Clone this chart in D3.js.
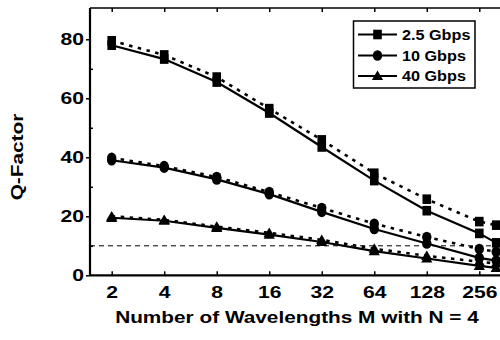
<!DOCTYPE html>
<html>
<head>
<meta charset="utf-8">
<script src="https://cdn.jsdelivr.net/npm/d3@7/dist/d3.min.js"></script>
<style>
  html, body { margin: 0; padding: 0; background: #fff; }
  svg { display: block; }
  text { font-family: "Liberation Sans", Arial, sans-serif; font-weight: bold; fill: #000; }
</style>
</head>
<body>
<svg id="chart" width="500" height="340"></svg>
<script>
// ---- data ----
const wavelengths = [2, 4, 8, 16, 32, 64, 128, 256, 320];
const xTickValues = [2, 4, 8, 16, 32, 64, 128, 256];
const yTickValues = [0, 20, 40, 60, 80];
const yMinorTicks = [10, 30, 50, 70];
const seriesNames = ["2.5 Gbps", "10 Gbps", "40 Gbps"];
const markerShapes = ["square", "circle", "triangle"];
const q25Solid  = [78.0, 73.3, 65.5, 55.0, 43.5, 32.1, 21.9, 14.2, 11.0];
const q25Dotted = [79.5, 74.7, 67.2, 56.5, 45.9, 34.6, 25.8, 18.2, 17.0];
const q10Solid  = [39.0, 36.5, 32.5, 27.5, 21.5, 15.7, 10.8, 5.9, 5.0];
const q10Dotted = [39.8, 37.0, 33.3, 28.2, 22.8, 17.5, 13.0, 8.9, 8.0];
const q40Solid  = [19.5, 18.5, 16.1, 13.8, 11.3, 8.2, 5.7, 3.2, 2.5];
const q40Dotted = [20.0, 18.8, 16.5, 14.4, 12.0, 9.0, 6.6, 4.6, 4.0];
const thresholdQ = 10;
const xTitle = "Number of Wavelengths M with N = 4";
const yTitle = "Q-Factor";

// ---- layout ----
const svg = d3.select("#chart");
const plotL = 90, plotT = 8, plotB = 275.3, plotR = 500;
const x = d3.scaleLog().base(2).domain([2, 256]).range([111.7, 479.3]);
const y = d3.scaleLinear().domain([0, 80]).range([275.3, 39.3]);
const SX = 1.32; // horizontal stretch of the reference's lettering

function stretch(sel, sx) {
  sel.each(function () {
    const t = d3.select(this);
    const ax = +(t.attr("x") || 0);
    t.attr("transform", `translate(${ax},0) scale(${sx},1) translate(${-ax},0)`);
  });
}

// frame line (top)
svg.append("line").attr("x1", plotL).attr("x2", plotR).attr("y1", plotT).attr("y2", plotT)
  .attr("stroke", "#000").attr("stroke-width", 1.5);

// threshold line
svg.append("line").attr("x1", plotL).attr("x2", plotR)
  .attr("y1", y(thresholdQ)).attr("y2", y(thresholdQ))
  .attr("stroke", "#000").attr("stroke-width", 1).attr("stroke-dasharray", "5,4");

// series
const series = [
  { vals: q25Dotted, dash: "3.5,5.5", shape: markerShapes[0] },
  { vals: q25Solid,  dash: null,      shape: markerShapes[0] },
  { vals: q10Dotted, dash: "3.5,5.5", shape: markerShapes[1] },
  { vals: q10Solid,  dash: null,      shape: markerShapes[1] },
  { vals: q40Dotted, dash: "3.5,5.5", shape: markerShapes[2] },
  { vals: q40Solid,  dash: null,      shape: markerShapes[2] }
];
const line = d3.line().x((d, i) => x(wavelengths[i])).y(d => y(d));

function drawMarker(g, shape, cx, cy) {
  if (shape === "square") {
    g.append("rect").attr("x", cx - 4.3).attr("y", cy - 4.8).attr("width", 8.6).attr("height", 9.6).attr("fill", "#000");
  } else if (shape === "circle") {
    g.append("ellipse").attr("cx", cx).attr("cy", cy).attr("rx", 4.7).attr("ry", 5.3).attr("fill", "#000");
  } else {
    g.append("path").attr("d", `M${cx},${cy - 5.4}L${cx + 5.6},${cy + 4.1}L${cx - 5.6},${cy + 4.1}Z`).attr("fill", "#000");
  }
}

const gSeries = svg.append("g");
series.forEach(s => {
  gSeries.append("path").datum(s.vals).attr("d", line)
    .attr("fill", "none").attr("stroke", "#000")
    .attr("stroke-width", s.dash ? 2.6 : 2.2)
    .attr("stroke-dasharray", s.dash);
});
series.forEach(s => {
  s.vals.forEach((v, i) => drawMarker(gSeries, s.shape, x(wavelengths[i]), y(v)));
});

// top axis ticks (inside)
svg.append("g").attr("transform", `translate(0,${plotT})`)
  .call(d3.axisBottom(x).tickValues(xTickValues).tickSize(4).tickFormat(""))
  .call(g => g.select(".domain").remove())
  .call(g => g.selectAll("line").attr("stroke-width", 1.5));

// bottom axis
const xAxisG = svg.append("g").attr("transform", `translate(0,${plotB})`)
  .call(d3.axisBottom(x).tickValues(xTickValues).tickSizeInner(-4).tickSizeOuter(0).tickPadding(11)
    .tickFormat(d3.format("d")));
xAxisG.select(".domain").attr("d", `M${plotL},0H${plotR}`).attr("stroke-width", 2.2);
xAxisG.selectAll("line").attr("stroke-width", 1.5);
xAxisG.selectAll("text").style("font-size", "16px").style("font-family", null).call(stretch, SX);

// left axis
const yAxisG = svg.append("g").attr("transform", `translate(${plotL},0)`)
  .call(d3.axisLeft(y).tickValues(yTickValues).tickSizeInner(4).tickSizeOuter(0).tickPadding(2));
yAxisG.select(".domain").attr("d", `M0,${plotB}V${plotT}`).attr("stroke-width", 2.2);
yAxisG.selectAll("line").attr("stroke-width", 1.5);
yAxisG.selectAll("text").style("font-size", "16px").style("font-family", null).call(stretch, SX);

// minor ticks (inside)
svg.append("g").attr("transform", `translate(${plotL},0)`)
  .call(d3.axisRight(y).tickValues(yMinorTicks).tickSize(3).tickFormat(""))
  .call(g => g.select(".domain").remove())
  .call(g => g.selectAll("line").attr("stroke-width", 1.5));

// axis titles
svg.append("text").attr("x", 297).attr("y", 323).attr("text-anchor", "middle")
  .style("font-size", "16px").text(xTitle)
  .attr("transform", `translate(297,0) scale(1.3,1) translate(-297,0)`);
svg.append("text").attr("text-anchor", "middle")
  .attr("transform", `translate(23,157) rotate(-90) scale(1.3,1)`)
  .style("font-size", "16px").text(yTitle);

// legend
const lg = svg.append("g");
lg.append("rect").attr("x", 353.5).attr("y", 21).attr("width", 121.5).attr("height", 67)
  .attr("fill", "#fff").attr("stroke", "#000").attr("stroke-width", 1.5);
const rowY = [34.5, 55.5, 76];
seriesNames.forEach((name, i) => {
  lg.append("line").attr("x1", 358).attr("x2", 397).attr("y1", rowY[i]).attr("y2", rowY[i])
    .attr("stroke", "#000").attr("stroke-width", 2.2);
  drawMarker(lg, markerShapes[i], 377.5, rowY[i]);
  lg.append("text").attr("x", 402).attr("y", rowY[i] + 5.5).style("font-size", "15px")
    .text(name).call(stretch, 1.08);
});
</script>
</body>
</html>
